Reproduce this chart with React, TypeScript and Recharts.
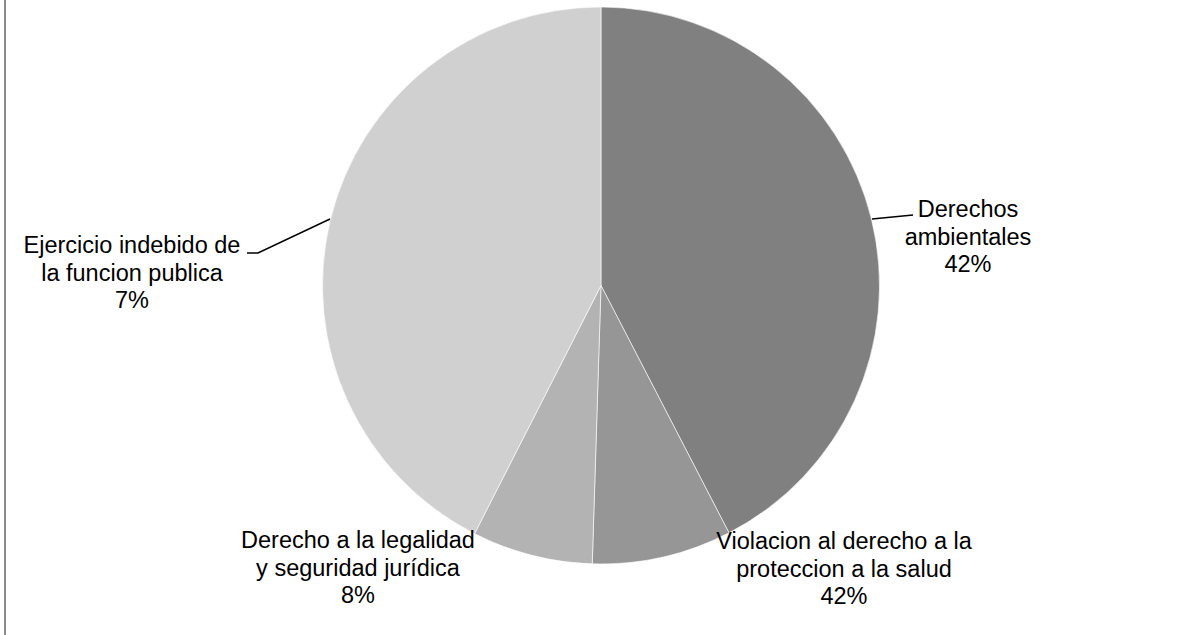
import { PieChart, Pie, Cell } from "recharts";

const names = [
  ["Derechos", "ambientales"],
  ["Violacion al derecho a la", "proteccion a la salud"],
  ["Derecho a la legalidad", "y seguridad jurídica"],
  ["Ejercicio indebido de", "la funcion publica"],
];
const values = [42.4, 8.1, 7.0, 42.5];
const pctLabels = ["42%", "42%", "8%", "7%"];
const colors = ["#808080", "#969696", "#b3b3b3", "#d0d0d0"];

const data = values.map((v, i) => ({ name: names[i].join(" "), value: v }));

// label layout, offsets from the pie centre (Excel "best fit" placement)
const LABEL_POS = [
  { dx: 367, dy: -68.5 },
  { dx: 243, dy: 263.5 },
  { dx: -243, dy: 262.5 },
  { dx: -469, dy: -32.5 },
];
const LEADERS: (number[][] | null)[] = [
  [[271, -66.5], [312, -70.5]],
  null,
  null,
  [[-271, -66.5], [-343, -32.5], [-354, -32.5]],
];
const LINE_H = 27.5;

const renderLabel = (props: any) => {
  const { cx, cy, index } = props;
  const p = LABEL_POS[index];
  const lead = LEADERS[index];
  const lines = [...names[index], pctLabels[index]];
  return (
    <g key={`lbl-${index}`}>
      {lead && (
        <polyline
          points={lead.map(([x, y]) => `${cx + x},${cy + y}`).join(" ")}
          fill="none"
          stroke="#000"
          strokeWidth={1.5}
        />
      )}
      <text
        x={cx + p.dx}
        y={cy + p.dy}
        textAnchor="middle"
        fill="#000"
        fontSize={23.5}
        fontFamily="'Liberation Sans', Arial, sans-serif"
      >
        {lines.map((t, i) => (
          <tspan key={i} x={cx + p.dx} y={cy + p.dy + i * LINE_H}>
            {t}
          </tspan>
        ))}
      </text>
    </g>
  );
};

export default function App() {
  return (
    <div style={{ position: "absolute", left: 0, top: 0, width: 1190, height: 635, background: "#fff" }}>
      <div style={{ position: "absolute", left: 4, top: 0, width: 2, height: 635, background: "#8c8c8c" }} />
      <PieChart width={1190} height={635} margin={{ top: 0, right: 0, bottom: 0, left: 0 }}>
        <Pie
          data={data}
          dataKey="value"
          cx={601}
          cy={285.5}
          outerRadius={278.5}
          startAngle={90}
          endAngle={-270}
          stroke="#ffffff"
          strokeWidth={0.6}
          label={renderLabel}
          labelLine={false}
          isAnimationActive={false}
        >
          {data.map((d, i) => (
            <Cell key={d.name} fill={colors[i]} />
          ))}
        </Pie>
      </PieChart>
    </div>
  );
}
